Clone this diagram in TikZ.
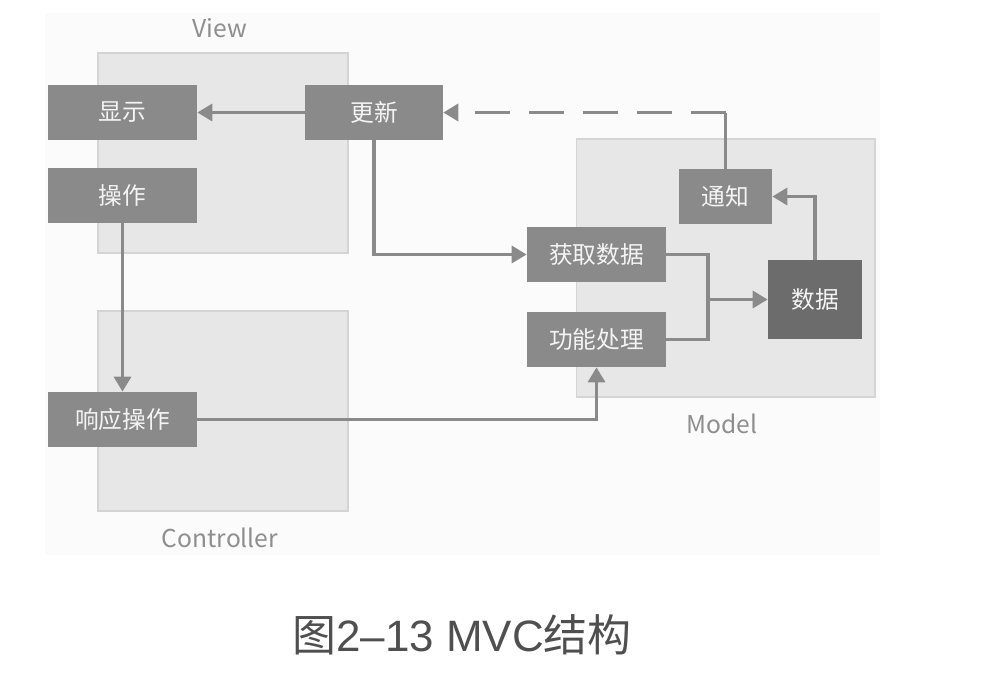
\documentclass[tikz,border=0pt]{standalone}
\usepackage{fontspec}
\setmainfont{Noto Sans CJK SC}
\newfontfamily\capfont{Liberation Sans}
\usepackage{tikz}
\usetikzlibrary{arrows.meta, positioning, calc}
\definecolor{boxgray}{HTML}{8A8A8A}
\definecolor{boxdark}{HTML}{6C6C6C}
\definecolor{boxtext}{HTML}{F4F4F4}
\definecolor{zonefill}{HTML}{E7E7E7}
\definecolor{zoneline}{HTML}{D4D4D4}
\definecolor{linegray}{HTML}{8A8A8A}
\definecolor{lblgray}{HTML}{8E8E8E}
\definecolor{capgray}{HTML}{4F4F4F}
\definecolor{bgtint}{HTML}{FBFBFB}

\begin{document}
\begin{tikzpicture}[x=0.02cm, y=-0.02cm,
    every node/.style={font=\fontsize{13.5}{16}\selectfont},
    blk/.style={fill=boxgray, text=boxtext, inner sep=0pt, minimum height=1.1cm},
    zone/.style={fill=zonefill, draw=zoneline, line width=0.6pt, inner sep=0pt},
    lbl/.style={text=lblgray, font=\fontsize{14}{16}\selectfont},
    pipe/.style={draw=linegray, line width=1.9pt},
    link/.style={pipe, -{Triangle[length=0.3cm, width=0.34cm]}}]
  \useasboundingbox (0,0) rectangle (984,676);
  \fill[bgtint] (45,13) rectangle (880,555);

  % the three parts
  \node[zone, minimum width=5cm, minimum height=4cm] (view) at (223,153) {};
  \node[zone, minimum width=5cm, minimum height=4cm] (ctrl) at (223,411) {};
  \node[zone, minimum width=5.98cm, minimum height=5.16cm] (model) at (725.5,268) {};
  \node[lbl] (viewlbl) at (220,28) {View};
  \node[lbl] (ctrllbl) at (220,538) {Controller};
  \node[lbl] (modellbl) at (722,424) {Model};

  % blocks
  \node[blk, minimum width=2.98cm] (show) at (122.5,112.5) {显示};
  \node[blk, minimum width=2.98cm] (op) at (122.5,195.5) {操作};
  \node[blk, minimum width=2.76cm] (upd) at (374,112.5) {更新};
  \node[blk, minimum width=2.98cm] (resp) at (122.5,419.5) {响应操作};
  \node[blk, minimum width=2.78cm] (get) at (596.5,254.5) {获取数据};
  \node[blk, minimum width=2.78cm] (proc) at (596.5,339.5) {功能处理};
  \node[blk, minimum width=1.86cm] (note) at (725.5,196.5) {通知};
  \node[blk, fill=boxdark, minimum width=1.88cm, minimum height=1.58cm] (data) at (815,299.5) {数据};

  % connectors
  \draw[link] (upd.west) -- (show.east);
  \draw[link] (upd.south) |- (get.west);
  \draw[link] (op.south) -- (resp.north);
  \draw[link] (resp.east) -| (proc.south);
  \coordinate (merge) at (708,299.5);
  \draw[pipe] (get.east) -| (merge);
  \draw[pipe] (proc.east) -| (merge);
  \draw[link] (merge) -- (data.west);
  \draw[link] (data.north) |- (note.east);
  \coordinate (turn) at (note.north |- upd.east);
  \draw[pipe] (note.north) -- (turn);
  \draw[link, line width=2.1pt, dash pattern=on 0.7cm off 0.38cm] (turn) -- (upd.east);

  \node[text=capgray, font=\fontsize{25}{30}\selectfont] (cap) at (462,635) {图{\capfont 2–13 MVC}结构};
\end{tikzpicture}
\end{document}
